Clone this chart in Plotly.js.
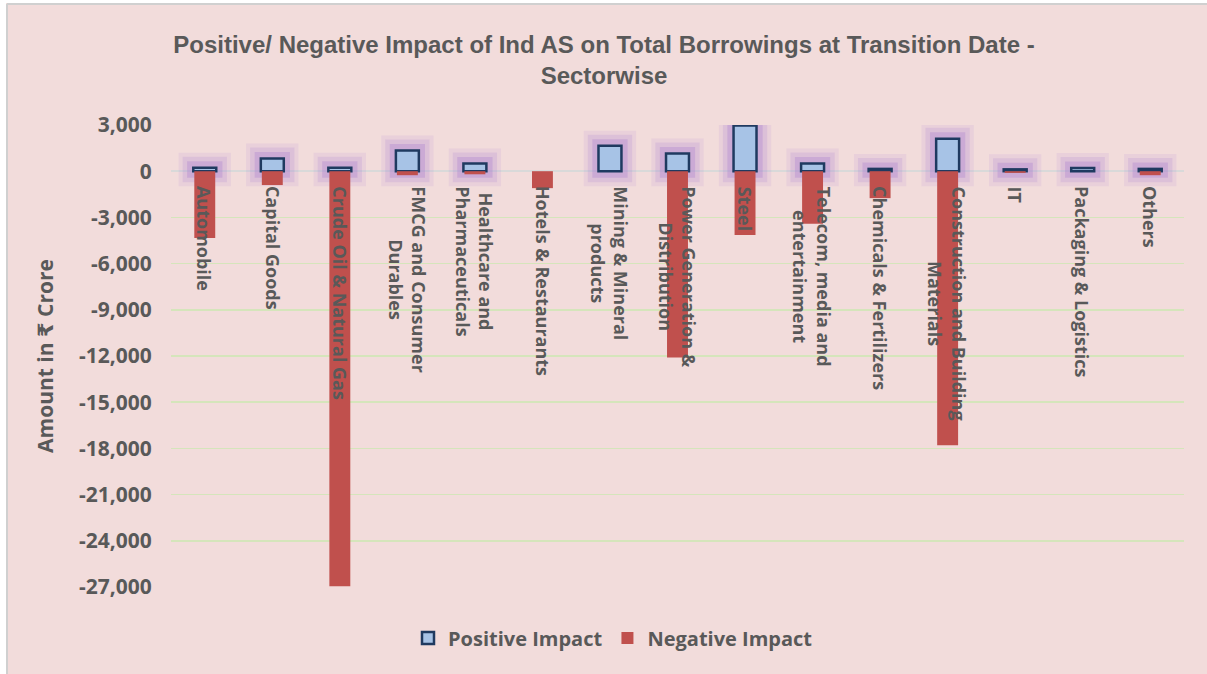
<!DOCTYPE html>
<html>
<head>
<meta charset="utf-8">
<script src="https://cdn.plot.ly/plotly-3.0.1.min.js"></script>
<style>
html,body{margin:0;padding:0;background:#ffffff;}
#chart{width:1207px;height:674px;}
</style>
</head>
<body>
<div id="chart"></div>
<script>
// ---- Data ----
const categories = [
  "Automobile", "Capital Goods", "Crude Oil & Natural Gas", "FMCG and Consumer Durables",
  "Healthcare and Pharmaceuticals", "Hotels & Restaurants", "Mining & Mineral products",
  "Power Generation & Distribution", "Steel", "Telecom, media and entertainment",
  "Chemicals & Fertilizers", "Construction and Building Materials", "IT",
  "Packaging & Logistics", "Others"
];
const categoryLabels = [
  "Automobile", "Capital Goods", "Crude Oil & Natural Gas", "FMCG and Consumer<br>Durables",
  "Healthcare and<br>Pharmaceuticals", "Hotels & Restaurants", "Mining & Mineral<br>products",
  "Power Generation &<br>Distribution", "Steel", "Telecom, media and<br>entertainment",
  "Chemicals & Fertilizers", "Construction and Building<br>Materials", "IT",
  "Packaging & Logistics", "Others"
];
const positiveImpact = [220, 820, 220, 1340, 500, 0, 1660, 1150, 2960, 500, 150, 2100, 120, 200, 150];
const negativeImpact = [-4340, -900, -26950, -260, -200, -1100, 0, -12090, -4150, -3410, -1750, -17790, -110, 0, -260];
const yTickValues = [3000, 0, -3000, -6000, -9000, -12000, -15000, -18000, -21000, -24000, -27000];
const yTickLabels = ["3,000", "0", "-3,000", "-6,000", "-9,000", "-12,000", "-15,000", "-18,000", "-21,000", "-24,000", "-27,000"];

// ---- Styling ----
const W = 1207, H = 674;
const M = {l: 171, r: 23, t: 125, b: 87};
const PW = W - M.l - M.r, PH = H - M.t - M.b;
const PINK = "#F2DCDB";
const GREY_TXT = "#595959";
const LABEL_FONT = "Open Sans, DejaVu Sans, sans-serif";

// zero-valued bars are not drawn (no outline line at the axis)
const posDrawn = positiveImpact.map(v => v === 0 ? null : v);
const negDrawn = negativeImpact.map(v => v === 0 ? null : v);

const glowLayers = [
  {w: 30, c: "rgba(180,140,215,0.15)"},
  {w: 22, c: "rgba(172,128,210,0.2)"},
  {w: 13, c: "rgba(165,118,205,0.3)"}
].map(g => ({
  type: "bar", x: categories, y: posDrawn, width: 0.33,
  marker: {color: "rgba(0,0,0,0)", line: {color: g.c, width: g.w}},
  showlegend: false, hoverinfo: "skip"
}));

const traces = glowLayers.concat([
  {
    type: "bar", name: "Positive Impact", x: categories, y: posDrawn, width: 0.34,
    marker: {color: "#A7C3E6", line: {color: "#1F3A60", width: 2.5}}
  },
  {
    type: "bar", name: "Negative Impact", x: categories, y: negDrawn, width: 0.31,
    marker: {color: "#C0504D", line: {width: 0}}
  }
]);

const annotations = categories.map((c, i) => ({
  x: c, y: 0, xref: "x", yref: "y",
  text: categoryLabels[i], showarrow: false,
  textangle: 90, xanchor: "center", yanchor: "top", yshift: -13,
  align: "center",
  font: {family: LABEL_FONT, size: 18, color: GREY_TXT, weight: "bold"}
}));

const layout = {
  width: W, height: H,
  margin: M,
  paper_bgcolor: PINK, plot_bgcolor: PINK,
  barmode: "overlay",
  title: {
    text: "Positive/ Negative Impact of Ind AS on Total Borrowings at Transition Date -<br>Sectorwise",
    x: (604 - M.l) / PW, xref: "paper", xanchor: "center",
    y: 1 - 53 / H, yref: "container", yanchor: "middle",
    font: {family: "Liberation Sans Narrow, Liberation Sans, Arial, sans-serif", size: 24, color: GREY_TXT, weight: "bold"}
  },
  xaxis: {
    type: "category", showticklabels: false, showgrid: false, zeroline: false,
    showline: false, ticks: "", fixedrange: true
  },
  yaxis: {
    range: [-27000, 3000],
    tickvals: yTickValues, ticktext: yTickLabels,
    showgrid: true, gridcolor: "#D5E5BB", gridwidth: 1.5,
    zeroline: true, zerolinecolor: "#D9D9D9", zerolinewidth: 2,
    showline: false, ticks: "outside", ticklen: 14, tickcolor: "rgba(0,0,0,0)",
    tickfont: {family: LABEL_FONT, size: 21, color: GREY_TXT, weight: "bold"},
    title: {text: "Amount in ₹ Crore", standoff: 19,
      font: {family: LABEL_FONT, size: 21, color: GREY_TXT, weight: "bold"}}
  },
  legend: {
    orientation: "h", x: (613 - M.l) / PW, xanchor: "center",
    y: -51 / PH, yanchor: "middle",
    font: {family: LABEL_FONT, size: 20, color: GREY_TXT, weight: "bold"},
    bgcolor: "rgba(0,0,0,0)", traceorder: "normal"
  },
  annotations: annotations,
  shapes: [
    {type: "line", xref: "paper", yref: "paper",
     x0: (7 - M.l) / PW, x1: (7 - M.l) / PW,
     y0: -M.b / PH, y1: 1 + (M.t - 4) / PH,
     line: {color: "#D0D0D0", width: 2}},
    {type: "line", xref: "paper", yref: "paper",
     x0: (7 - M.l) / PW, x1: 1 + M.r / PW,
     y0: 1 + (M.t - 4) / PH, y1: 1 + (M.t - 4) / PH,
     line: {color: "#D0D0D0", width: 2}},
    {type: "rect", xref: "paper", yref: "paper",
     x0: -M.l / PW, x1: (6 - M.l) / PW,
     y0: -M.b / PH, y1: 1 + M.t / PH,
     fillcolor: "#ffffff", line: {width: 0}},
    {type: "rect", xref: "paper", yref: "paper",
     x0: -M.l / PW, x1: 1 + M.r / PW,
     y0: 1 + (M.t - 3) / PH, y1: 1 + M.t / PH,
     fillcolor: "#ffffff", line: {width: 0}}
  ],
  showlegend: true
};

Plotly.newPlot("chart", traces, layout, {displayModeBar: false, staticPlot: true});
</script>
</body>
</html>
